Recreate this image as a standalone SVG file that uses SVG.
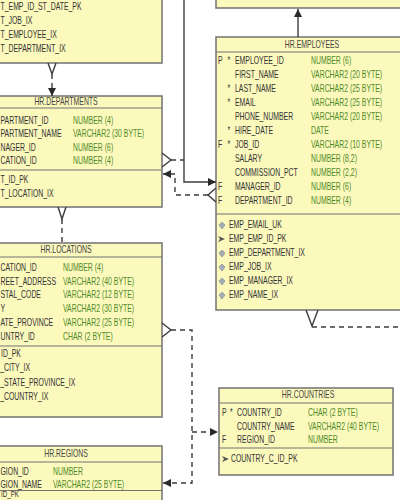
<svg xmlns="http://www.w3.org/2000/svg" width="400" height="500" viewBox="0 0 400 500">
<style>
.box{fill:#fcf9bd;stroke:#727272;stroke-width:1.5}
.sep{stroke:#727272;stroke-width:1.2;fill:none}
text{font-family:"Liberation Sans",Arial,sans-serif;font-size:10px;transform-box:fill-box;transform-origin:0 0;transform:scaleX(0.69)}
.n{fill:#333}
.t{fill:#4f8a28}
.h{fill:#444;text-anchor:middle;transform-origin:50% 50%}
.c{fill:none;stroke:#3c3c3c;stroke-width:1.4}
.d{stroke-dasharray:5 4}
.ix{fill:#a3adb6;stroke:#7d8790;stroke-width:0.6}
.pk{fill:#555}
</style>
<defs>
<marker id="ah" viewBox="0 0 8 8" refX="8" refY="4" markerWidth="8" markerHeight="8" markerUnits="userSpaceOnUse" orient="auto">
<path d="M0,0 L8,4 L0,8 Z" fill="#2a2a2a"/>
</marker>
</defs>
<rect width="400" height="500" fill="#ffffff"/>

<g id="job_history">
<rect class="box" x="-5" y="-5" width="167" height="68"/>
<text class="n" x="0.5" y="10.5">T_EMP_ID_ST_DATE_PK</text>
<text class="n" x="0.5" y="24.5">T_JOB_IX</text>
<text class="n" x="0.5" y="38.5">T_EMPLOYEE_IX</text>
<text class="n" x="0.5" y="52.5">T_DEPARTMENT_IX</text>
</g>

<g id="jobs">
<rect class="box" x="216" y="-5" width="200" height="13"/>
</g>

<g id="employees">
<rect class="box" x="216" y="37" width="200" height="273"/>
<line class="sep" x1="216" y1="52" x2="400" y2="52"/>
<line class="sep" x1="216" y1="214" x2="400" y2="214"/>
<text class="h" x="312" y="48">HR.EMPLOYEES</text>
<text class="n" x="218" y="64.5">P</text><text class="n" x="227.5" y="64.5">*</text>
<text class="n" x="235" y="64.5">EMPLOYEE_ID</text><text class="t" x="311" y="64.5">NUMBER (6)</text>
<text class="n" x="235" y="78.5">FIRST_NAME</text><text class="t" x="311" y="78.5">VARCHAR2 (20 BYTE)</text>
<text class="n" x="227.5" y="92.5">*</text>
<text class="n" x="235" y="92.5">LAST_NAME</text><text class="t" x="311" y="92.5">VARCHAR2 (25 BYTE)</text>
<text class="n" x="227.5" y="106">*</text>
<text class="n" x="235" y="106">EMAIL</text><text class="t" x="311" y="106">VARCHAR2 (25 BYTE)</text>
<text class="n" x="235" y="120">PHONE_NUMBER</text><text class="t" x="311" y="120">VARCHAR2 (20 BYTE)</text>
<text class="n" x="227.5" y="134">*</text>
<text class="n" x="235" y="134">HIRE_DATE</text><text class="t" x="311" y="134">DATE</text>
<text class="n" x="218" y="148">F</text><text class="n" x="227.5" y="148">*</text>
<text class="n" x="235" y="148">JOB_ID</text><text class="t" x="311" y="148">VARCHAR2 (10 BYTE)</text>
<text class="n" x="235" y="162">SALARY</text><text class="t" x="311" y="162">NUMBER (8,2)</text>
<text class="n" x="235" y="176">COMMISSION_PCT</text><text class="t" x="311" y="176">NUMBER (2,2)</text>
<text class="n" x="218" y="190">F</text>
<text class="n" x="235" y="190">MANAGER_ID</text><text class="t" x="311" y="190">NUMBER (6)</text>
<text class="n" x="218" y="204">F</text>
<text class="n" x="235" y="204">DEPARTMENT_ID</text><text class="t" x="311" y="204">NUMBER (4)</text>
<path class="ix" d="M222,222 L225,225 L222,229 L219,225 Z"/>
<path class="pk" d="M218,236 L225,239 L218,242 L220,239 Z"/>
<path class="ix" d="M222,250 L225,253 L222,257 L219,253 Z"/>
<path class="ix" d="M222,264 L225,267 L222,271 L219,267 Z"/>
<path class="ix" d="M222,278 L225,281 L222,285 L219,281 Z"/>
<path class="ix" d="M222,292 L225,295 L222,299 L219,295 Z"/>
<text class="n" x="229" y="228.5">EMP_EMAIL_UK</text>
<text class="n" x="229" y="242.5">EMP_EMP_ID_PK</text>
<text class="n" x="229" y="256.5">EMP_DEPARTMENT_IX</text>
<text class="n" x="229" y="270.5">EMP_JOB_IX</text>
<text class="n" x="229" y="284.5">EMP_MANAGER_IX</text>
<text class="n" x="229" y="298.5">EMP_NAME_IX</text>
</g>

<g id="departments">
<rect class="box" x="-5" y="96" width="167" height="111"/>
<line class="sep" x1="-5" y1="108" x2="162" y2="108"/>
<line class="sep" x1="-5" y1="170" x2="162" y2="170"/>
<text class="h" x="66" y="105.5">HR.DEPARTMENTS</text>
<text class="n" x="0.5" y="124.5">PARTMENT_ID</text><text class="t" x="73" y="124.5">NUMBER (4)</text>
<text class="n" x="0.5" y="137.5">PARTMENT_NAME</text><text class="t" x="73" y="137.5">VARCHAR2 (30 BYTE)</text>
<text class="n" x="0.5" y="151.5">NAGER_ID</text><text class="t" x="73" y="151.5">NUMBER (6)</text>
<text class="n" x="0.5" y="164.5">CATION_ID</text><text class="t" x="73" y="164.5">NUMBER (4)</text>
<text class="n" x="0.5" y="183.5">T_ID_PK</text>
<text class="n" x="0.5" y="197.5">T_LOCATION_IX</text>
</g>

<g id="locations">
<rect class="box" x="-5" y="243" width="167" height="174"/>
<line class="sep" x1="-5" y1="257" x2="162" y2="257"/>
<line class="sep" x1="-5" y1="346" x2="162" y2="346"/>
<text class="h" x="66" y="253.5">HR.LOCATIONS</text>
<text class="n" x="0.5" y="271.5">CATION_ID</text><text class="t" x="63" y="271.5">NUMBER (4)</text>
<text class="n" x="0.5" y="285.5">REET_ADDRESS</text><text class="t" x="63" y="285.5">VARCHAR2 (40 BYTE)</text>
<text class="n" x="0.5" y="298.5">STAL_CODE</text><text class="t" x="63" y="298.5">VARCHAR2 (12 BYTE)</text>
<text class="n" x="0.5" y="312.5">Y</text><text class="t" x="63" y="312.5">VARCHAR2 (30 BYTE)</text>
<text class="n" x="0.5" y="326.5">ATE_PROVINCE</text><text class="t" x="63" y="326.5">VARCHAR2 (25 BYTE)</text>
<text class="n" x="0.5" y="340.5">UNTRY_ID</text><text class="t" x="63" y="340.5">CHAR (2 BYTE)</text>
<text class="n" x="1" y="357.5">ID_PK</text>
<text class="n" x="0.5" y="371.5">_CITY_IX</text>
<text class="n" x="0.5" y="386">_STATE_PROVINCE_IX</text>
<text class="n" x="0.5" y="400.5">_COUNTRY_IX</text>
</g>

<g id="countries">
<rect class="box" x="219" y="388" width="174" height="87"/>
<line class="sep" x1="219" y1="403" x2="393" y2="403"/>
<line class="sep" x1="219" y1="448" x2="393" y2="448"/>
<text class="h" x="308" y="398.5">HR.COUNTRIES</text>
<text class="n" x="222" y="416.5">P</text><text class="n" x="230" y="416.5">*</text>
<text class="n" x="237" y="416.5">COUNTRY_ID</text><text class="t" x="308" y="416.5">CHAR (2 BYTE)</text>
<text class="n" x="237" y="430.5">COUNTRY_NAME</text><text class="t" x="308" y="430.5">VARCHAR2 (40 BYTE)</text>
<text class="n" x="222" y="443.5">F</text>
<text class="n" x="237" y="443.5">REGION_ID</text><text class="t" x="308" y="443.5">NUMBER</text>
<path class="pk" d="M222,456 L229,459 L222,462 L224,459 Z"/>
<text class="n" x="231" y="462.5">COUNTRY_C_ID_PK</text>
</g>

<g id="regions">
<rect class="box" x="-5" y="446" width="167" height="70"/>
<line class="sep" x1="-5" y1="462" x2="162" y2="462"/>
<line class="sep" x1="-5" y1="490.5" x2="162" y2="490.5"/>
<text class="h" x="66" y="457.5">HR.REGIONS</text>
<text class="n" x="0.5" y="475.5">GION_ID</text><text class="t" x="53" y="475.5">NUMBER</text>
<text class="n" x="0.5" y="488">GION_NAME</text><text class="t" x="53" y="488">VARCHAR2 (25 BYTE)</text>
<text class="n" x="1" y="497.5" style="font-size:9px">ID_PK</text>
</g>

<g id="connectors">
<path class="c" d="M48,63 L52,74 L56,63"/>
<path class="c d" d="M52,74 V96" marker-end="url(#ah)"/>
<path class="c" d="M298,37 V9" marker-end="url(#ah)"/>
<path class="c" d="M184,0 V182 H216" marker-end="url(#ah)"/>
<path class="c" d="M162,153 L171,160 L162,167"/>
<path class="c d" d="M171,160 H184"/>
<path class="c" d="M216,188 L208,195 L216,202"/>
<path class="c d" d="M208,195 H175 V174 H163" marker-end="url(#ah)"/>
<path class="c" d="M58,207 L62,219 L66,207"/>
<path class="c d" d="M62,219 V243"/>
<path class="c" d="M306,310 L312,326 L318,310"/>
<path class="c d" d="M312,327 H400"/>
<path class="c" d="M162,323 L171,330 L162,337"/>
<path class="c d" d="M171,330 H192 V483 H163" marker-end="url(#ah)"/>
<path class="c d" d="M192,432 H218" marker-end="url(#ah)"/>
</g>
</svg>
